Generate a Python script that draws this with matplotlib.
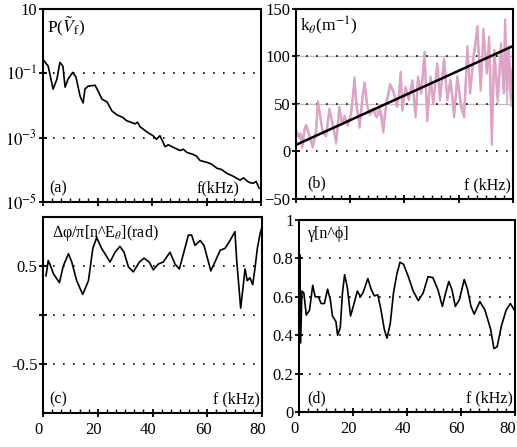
import numpy as np
import matplotlib.pyplot as plt
from matplotlib.ticker import MultipleLocator, AutoMinorLocator
from matplotlib.transforms import ScaledTranslation

plt.rcParams['font.family'] = ['Liberation Serif', 'DejaVu Serif']
plt.rcParams['mathtext.fontset'] = 'stix'

# (a) power spectrum, log10 values
f_a = [0, 1.9, 3.7, 5.1, 6.2, 7.3, 8.1, 9.2, 10.9, 12.1, 13.6, 14.7, 15.4, 16.5,
       19.1, 20.2, 21.6, 23.5, 25.3, 27.1, 28.2, 29.4, 30.6, 31.9, 33.8, 34.7,
       35.6, 38.1, 39.2, 40.4, 41.6, 42.9, 44.8, 46.0, 47.3, 50.3, 51.5, 52.8,
       55.1, 56.4, 57.6, 60.2, 61.8, 63.8, 65.5, 67.5, 69.8, 71.0, 72.3, 73.6,
       74.9, 76.0, 77.1, 78.2, 79.3]
logp_a = [-0.57, -0.78, -1.49, -1.18, -0.66, -0.78, -1.43, -1.18, -0.97, -1.12,
          -1.71, -1.92, -1.49, -1.40, -1.37, -1.55, -1.80, -1.89, -2.17, -2.29,
          -2.33, -2.38, -2.47, -2.51, -2.57, -2.52, -2.66, -2.82, -2.88, -2.94,
          -3.05, -2.94, -3.28, -3.22, -3.28, -3.40, -3.36, -3.46, -3.52, -3.58,
          -3.71, -3.77, -3.82, -3.95, -3.99, -4.11, -4.20, -4.26, -4.32, -4.25,
          -4.35, -4.40, -4.42, -4.36, -4.57]

# (b) k_theta
f_b = [0.5, 1.3, 1.8, 2.3, 3.2, 3.8, 5.0, 6.2, 7.4, 8.1, 8.9, 9.8, 11.1, 12.3,
       13.8, 14.8, 16.0, 17.0, 17.9, 19.1, 20.3, 21.6, 22.2, 23.5, 24.5, 25.3,
       26.3, 27.2, 28.5, 29.7, 31.0, 32.2, 33.4, 34.7, 35.9, 37.2, 38.0, 38.6,
       39.2, 40.4, 41.6, 42.9, 44.1, 45.0, 46.2, 47.4, 48.4, 49.6, 50.6, 52.1,
       53.1, 54.6, 55.8, 57.0, 58.3, 59.5, 60.8, 62.0, 63.2, 64.2, 65.4, 66.9,
       68.1, 69.1, 70.4, 71.2, 72.2, 73.1, 74.4, 75.6, 76.6, 77.1, 77.8, 78.4,
       79.3, 79.8]
k_pink = [20, 15, 19, 4, 25, 28, 15, 4, 20, 53, 37, 20, 16, 45, 25, 11, 47, 28,
          37, 27, 39, 78, 50, 25, 57, 73, 47, 40, 43, 36, 43, 20, 53, 71, 64,
          47, 61, 84, 43, 68, 54, 75, 36, 79, 61, 105, 32, 79, 50, 93, 54, 98,
          54, 75, 36, 79, 47, 36, 111, 61, 100, 132, 64, 129, 82, 121, 7, 107,
          57, 114, 61, 139, 64, 111, 55, 85]
k_gray = [18, 14, 17, 6, 22, 27, 17, 8, 22, 50, 38, 22, 18, 42, 26, 8, 44, 30,
          38, 30, 40, 72, 52, 30, 55, 70, 48, 38, 45, 41, 46, 30, 50, 68, 63,
          50, 60, 80, 46, 66, 57, 72, 40, 76, 63, 100, 38, 76, 54, 90, 58, 94,
          58, 76, 40, 78, 52, 42, 104, 65, 96, 124, 70, 120, 85, 115, 30, 102,
          50, 106, 66, 128, 50, 104, 48, 88]
fit_f = [0, 80]
fit_k = [7, 111]

# (c) cross phase
f_c = [1.1, 1.9, 2.8, 3.8, 6.0, 7.4, 9.3, 10.5, 12.3, 14.5, 16.6, 18.2, 19.6,
       21.4, 24.5, 26.3, 28.1, 29.6, 31.2, 33.0, 35.2, 36.9, 38.8, 40.3, 42.1,
       43.9, 46.4, 48.2, 49.8, 51.3, 53.1, 54.3, 55.5, 57.4, 58.8, 61.3, 62.8,
       64.7, 66.5, 68.3, 70.1, 70.8, 71.7, 72.2, 72.9, 73.8, 74.6, 75.6, 76.6,
       77.4, 78.3, 79.3, 80.0]
ph_c = [0.40, 0.555, 0.50, 0.42, 0.33, 0.50, 0.625, 0.54, 0.35, 0.21, 0.35,
        0.68, 0.79, 0.68, 0.54, 0.64, 0.70, 0.64, 0.49, 0.44, 0.54, 0.58, 0.54,
        0.46, 0.52, 0.54, 0.64, 0.52, 0.47, 0.625, 0.815, 0.815, 0.71, 0.76,
        0.71, 0.45, 0.54, 0.66, 0.68, 0.76, 0.85, 0.54, 0.24, 0.07, 0.24, 0.47,
        0.35, 0.38, 0.31, 0.47, 0.68, 0.83, 0.90]

# (d) coherence
f_d = [0.1, 0.25, 0.6, 1.1, 1.8, 2.7, 3.9, 5.1, 6.0, 7.2, 8.2, 9.4, 10.6, 11.6,
       12.4, 13.7, 14.3, 15.3, 16.1, 16.9, 17.9, 19.1, 20.4, 21.6, 22.8, 23.8,
       25.5, 26.7, 27.9, 29.2, 30.4, 31.6, 32.6, 33.8, 35.0, 36.2, 37.4, 38.7,
       40.5, 42.3, 44.2, 46.0, 47.8, 49.6, 51.5, 53.1, 54.3, 55.5, 56.7, 57.9,
       59.4, 61.2, 62.4, 63.7, 64.9, 67.0, 68.9, 71.0, 72.2, 73.4, 75.0, 76.7,
       78.3, 79.8]
coh_d = [0.60, 0.82, 0.36, 0.63, 0.62, 0.505, 0.53, 0.66, 0.60, 0.60, 0.565,
         0.565, 0.64, 0.585, 0.50, 0.47, 0.40, 0.44, 0.62, 0.715, 0.65, 0.50,
         0.565, 0.63, 0.60, 0.625, 0.695, 0.64, 0.605, 0.61, 0.53, 0.43, 0.385,
         0.46, 0.62, 0.715, 0.78, 0.77, 0.705, 0.63, 0.58, 0.62, 0.705, 0.70,
         0.635, 0.55, 0.62, 0.68, 0.635, 0.55, 0.585, 0.69, 0.64, 0.55, 0.51,
         0.575, 0.53, 0.43, 0.33, 0.34, 0.45, 0.53, 0.565, 0.53]

fig = plt.figure(figsize=(5.17, 4.47), dpi=100)
ax_a = fig.add_axes([0.0832, 0.5481, 0.4217, 0.4318])
ax_b = fig.add_axes([0.5725, 0.5548, 0.4197, 0.4251])
ax_c = fig.add_axes([0.0832, 0.0761, 0.4236, 0.4385])
ax_d = fig.add_axes([0.5783, 0.0783, 0.4178, 0.4295])

dots = (0, (1, 5))
fs = 11.5

for ax in [ax_a, ax_b, ax_c, ax_d]:
    for s in ax.spines.values():
        s.set_linewidth(1.5)
    ax.xaxis.set_minor_locator(AutoMinorLocator(6))
    ax.tick_params(which='major', direction='inout', length=6, width=1.3,
                   labelsize=12, top=False, right=False)
    ax.tick_params(which='minor', direction='in', length=3, width=1.0,
                   top=False, right=False)
    ax.tick_params(axis='y', which='major', pad=1)

xt = [0, 20, 40, 60, 80]
xt_labels = ['0', '20', '40', '60', '80']

# (a)
ax_a.plot(f_a, np.power(10.0, logp_a), color='black', lw=1.2)
ax_a.set_yscale('log')
ax_a.set_xlim(0, 80)
ax_a.set_ylim(1e-5, 10)
ax_a.set_yticks([10, 1e-1, 1e-3, 1e-5])
ax_a.set_yticklabels(['10', '$10^{-1}$', '$10^{-3}$', '$10^{-5}$'])
ax_a.yaxis.set_minor_locator(plt.NullLocator())
ax_a.set_xticks(xt)
ax_a.set_xticklabels([])
for yv in [1e-1, 1e-3]:
    ax_a.axhline(yv, color='black', lw=1.2, ls=dots)
ax_a.text(0.02, 0.97, r'P($\tilde{V}_{\rm f}$)', transform=ax_a.transAxes,
          fontsize=fs + 1, va='top', ha='left')
ax_a.text(0.03, 0.03, '(a)', transform=ax_a.transAxes, fontsize=fs, va='bottom')
ax_a.text(0.90, 0.03, 'f(kHz)', transform=ax_a.transAxes, fontsize=fs,
          va='bottom', ha='right')

# (b)
for yv in [50, 100]:
    ax_b.axhline(yv, color='#c0c0c0', lw=0.9)
for yv in [0, 50, 100]:
    ax_b.axhline(yv, color='black', lw=1.2, ls=dots)
ax_b.plot(f_b, k_gray, color='#c8c8c8', lw=1.6)
ax_b.plot(f_b, k_pink, color='#e0a0c8', lw=1.6)
ax_b.plot(fit_f, fit_k, color='black', lw=1.8)
ax_b.set_xlim(0, 80)
ax_b.set_ylim(-50, 150)
ax_b.set_yticks([-50, 0, 50, 100, 150])
ax_b.set_xticks(xt)
ax_b.set_xticklabels([])
ax_b.text(0.02, 0.97, r'k$_\theta$(m$^{-1}$)', transform=ax_b.transAxes,
          fontsize=fs + 1, va='top', ha='left')
ax_b.text(0.05, 0.04, '(b)', transform=ax_b.transAxes, fontsize=fs, va='bottom')
ax_b.text(0.99, 0.03, 'f (kHz)', transform=ax_b.transAxes, fontsize=fs,
          va='bottom', ha='right')

# (c)
for yv in [-0.5, 0, 0.5]:
    ax_c.axhline(yv, color='black', lw=1.2, ls=dots)
ax_c.plot(f_c, ph_c, color='black', lw=1.2)
ax_c.set_xlim(0, 80)
ax_c.set_ylim(-1, 1)
ax_c.set_yticks([-0.5, 0, 0.5])
ax_c.set_yticklabels(['-0.5', '', '0.5'])
ax_c.set_xticks(xt)
ax_c.set_xticklabels(xt_labels)
ax_c.text(0.04, 0.97, r'Δφ/π[n^E$_\theta$](rad)', transform=ax_c.transAxes,
          fontsize=fs, va='top', ha='left')
ax_c.text(0.03, 0.03, '(c)', transform=ax_c.transAxes, fontsize=fs, va='bottom')
ax_c.text(0.99, 0.03, 'f (kHz)', transform=ax_c.transAxes, fontsize=fs,
          va='bottom', ha='right')

# (d)
for yv in [0.2, 0.4, 0.6, 0.8]:
    ax_d.axhline(yv, color='black', lw=1.2, ls=dots)
ax_d.plot(f_d, coh_d, color='black', lw=1.2)
ax_d.set_xlim(0, 80)
ax_d.set_ylim(0, 1)
ax_d.set_yticks([0, 0.2, 0.4, 0.6, 0.8, 1])
ax_d.set_yticklabels(['0', '0.2', '0.4', '0.6', '0.8', '1'])
ax_d.set_xticks(xt)
ax_d.set_xticklabels(xt_labels)
ax_d.text(0.04, 0.97, 'γ[n^ϕ]', transform=ax_d.transAxes,
          fontsize=fs, va='top', ha='left')
ax_d.text(0.04, 0.03, '(d)', transform=ax_d.transAxes, fontsize=fs, va='bottom')
ax_d.text(0.99, 0.03, 'f (kHz)', transform=ax_d.transAxes, fontsize=fs,
          va='bottom', ha='right')

# labels sit a little left of their ticks, as in the original
shift = ScaledTranslation(-3 / 72, 0, fig.dpi_scale_trans)
for ax in [ax_c, ax_d]:
    for lab in ax.get_xticklabels():
        lab.set_transform(lab.get_transform() + shift)
for lab in ax_d.get_xticklabels():
    if lab.get_text() == '80':
        lab.set_horizontalalignment('right')
        lab.set_transform(lab.get_transform() + ScaledTranslation(4 / 72, 0, fig.dpi_scale_trans))

fig.savefig('out.png', dpi=100)
